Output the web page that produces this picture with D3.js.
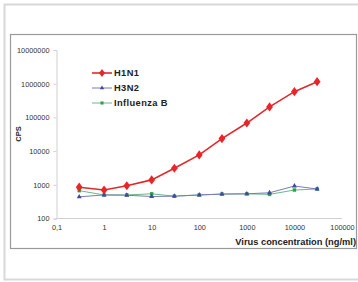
<!DOCTYPE html>
<html><head><meta charset="utf-8">
<script src="https://cdn.jsdelivr.net/npm/d3@7"></script>
<style>body{margin:0;background:#fff}svg{display:block}</style>
</head><body>
<script>
const concentrations = [0.3, 1, 3, 10, 30, 100, 300, 1000, 3000, 10000, 30000];
const h1n1 = [850, 700, 940, 1400, 3100, 7700, 23500, 68000, 205000, 580000, 1150000];
const h3n2 = [440, 500, 490, 450, 460, 500, 530, 540, 580, 920, 750];
const influenzaB = [670, 500, 500, 540, 460, 500, 530, 540, 520, 700, 750];
const yTicks = [100, 1000, 10000, 100000, 1000000, 10000000];
const xTicks = [0.1, 1, 10, 100, 1000, 10000, 100000];
const xTickLabels = ["0,1", "1", "10", "100", "1000", "10000", "100000"];
const seriesNames = ["H1N1", "H3N2", "Influenza B"];

const W = 358, H = 282;
const svg = d3.select("body").append("svg").attr("width", W).attr("height", H);
svg.append("rect").attr("x", 4.5).attr("y", 4.5).attr("width", 360).attr("height", 275)
  .attr("fill", "#fff").attr("stroke", "#d8d8d8").attr("stroke-width", 2);
svg.append("rect").attr("x", 10.5).attr("y", 34.5).attr("width", 346).attr("height", 214)
  .attr("fill", "#fff").attr("stroke", "#9a9a9a").attr("stroke-width", 1.2);

const x = d3.scaleLog().domain([0.1, 100000]).range([56.5, 342]);
const y = d3.scaleLog().domain([100, 10000000]).range([218.5, 50]);
const font = "'Liberation Sans', Arial, sans-serif";

const yAxis = svg.append("g").attr("transform", "translate(56.5,0)")
  .call(d3.axisLeft(y).tickValues(yTicks).tickFormat(d3.format("d")).tickSize(3).tickPadding(4));
const xAxis = svg.append("g").attr("transform", "translate(0,218.5)")
  .call(d3.axisBottom(x).tickValues(xTicks).tickFormat((d, i) => xTickLabels[i]).tickSize(0).tickPadding(6));
[yAxis, xAxis].forEach(g => {
  g.select(".domain").attr("stroke", "#d0d0d0");
  g.selectAll(".tick line").attr("stroke", "#d0d0d0");
  g.selectAll("text").attr("font-family", font).attr("font-size", 7.3).attr("fill", "#333");
});
xAxis.select(".domain").attr("d", `M${x(0.1)},0H${x(100000)}`);

svg.append("text").attr("x", 356).attr("y", 245).attr("text-anchor", "end")
  .attr("font-family", font).attr("font-size", 9.3).attr("font-weight", "bold").attr("fill", "#222")
  .text("Virus concentration (ng/ml)");
svg.append("text").attr("transform", "translate(21,134) rotate(-90)").attr("text-anchor", "middle")
  .attr("font-family", font).attr("font-size", 7.5).attr("font-weight", "bold").attr("fill", "#222")
  .text("CPS");

const series = [
  {name: seriesNames[0], vals: h1n1, line: "#e3282c", fill: "#e8262a", sym: d3.symbolDiamond, size: 24, w: 1.6, sx: 1.3},
  {name: seriesNames[1], vals: h3n2, line: "#7a7ab8", fill: "#3f4aa0", sym: d3.symbolTriangle, size: 11, w: 1, sx: 1},
  {name: seriesNames[2], vals: influenzaB, line: "#6ab88a", fill: "#2fa04f", sym: d3.symbolSquare, size: 12, w: 1, sx: 1}
];
const line = d3.line().x(d => x(d[0])).y(d => y(d[1]));
[series[2], series[1], series[0]].forEach(s => {
  const pts = concentrations.map((c, i) => [c, s.vals[i]]);
  svg.append("path").attr("d", line(pts)).attr("fill", "none").attr("stroke", s.line).attr("stroke-width", s.w);
  svg.selectAll(null).data(pts).enter().append("path")
    .attr("d", d3.symbol().type(s.sym).size(s.size))
    .attr("transform", d => `translate(${x(d[0])},${y(d[1])}) scale(${s.sx},1)`)
    .attr("fill", s.fill);
});

series.forEach((s, i) => {
  const ly = 73 + i * 15;
  svg.append("line").attr("x1", 92).attr("x2", 112).attr("y1", ly).attr("y2", ly)
    .attr("stroke", s.line).attr("stroke-width", s.w);
  svg.append("path").attr("d", d3.symbol().type(s.sym).size(s.size * 0.8)()).attr("transform", `translate(102,${ly}) scale(${s.sx},1)`).attr("fill", s.fill);
  svg.append("text").attr("x", 114).attr("y", ly + 3.3).attr("font-family", font).attr("font-size", 9.3)
    .attr("letter-spacing", 0.4).attr("font-weight", "bold").attr("fill", "#222").text(s.name);
});
</script>
</body></html>
